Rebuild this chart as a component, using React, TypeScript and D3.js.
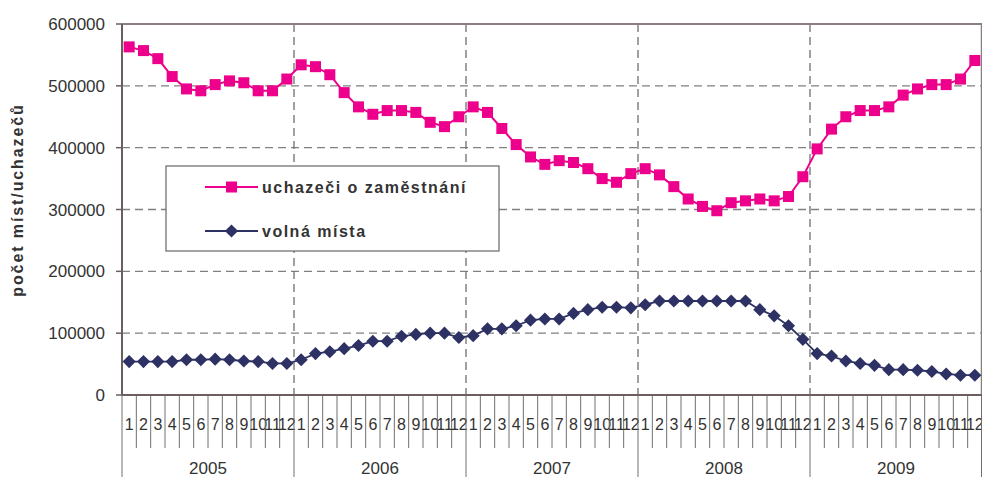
import React from 'react';
import * as d3 from 'd3';

const years = ['2005', '2006', '2007', '2008', '2009'];
const months = ['1', '2', '3', '4', '5', '6', '7', '8', '9', '10', '11', '12'];
const yTicks = [0, 100000, 200000, 300000, 400000, 500000, 600000];

// uchazeči o zaměstnání
const uchazeci = [
  563000, 557000, 544000, 515000, 495000, 492000, 502000, 508000, 505000, 492000, 492000, 511000,
  534000, 531000, 518000, 489000, 466000, 454000, 460000, 460000, 457000, 441000, 434000, 450000,
  466000, 457000, 431000, 405000, 385000, 373000, 379000, 376000, 366000, 350000, 344000, 358000,
  366000, 356000, 337000, 317000, 305000, 298000, 311000, 314000, 317000, 314000, 321000, 353000,
  398000, 430000, 450000, 460000, 460000, 466000, 485000, 495000, 502000, 502000, 511000, 541000,
];

// volná místa
const volnaMista = [
  54000, 54000, 54000, 54000, 57000, 57000, 58000, 57000, 55000, 54000, 51000, 51000,
  57000, 67000, 70000, 75000, 80000, 87000, 87000, 95000, 98000, 100000, 100000, 93000,
  96000, 107000, 107000, 112000, 121000, 123000, 123000, 132000, 138000, 142000, 142000, 141000,
  146000, 152000, 152000, 152000, 152000, 152000, 152000, 152000, 138000, 128000, 112000, 90000,
  67000, 63000, 55000, 51000, 48000, 41000, 41000, 40000, 38000, 34000, 32000, 32000,
];

const PINK = '#ec008c';
const NAVY = '#2e3163';
const TEXT = '#333333';
const FONT = '"Liberation Sans", Arial, sans-serif';

const width = 982;
const height = 477;
const margin = { left: 122, right: 0, top: 24, bottom: 82 };

export default function App() {
  const keys = years.flatMap((y) => months.map((m) => `${y}-${m}`));
  const x = d3
    .scaleBand<string>()
    .domain(keys)
    .range([margin.left, width - margin.right]);
  const xYear = d3
    .scaleBand<string>()
    .domain(years)
    .range([margin.left, width - margin.right]);
  const y = d3
    .scaleLinear()
    .domain([0, 600000])
    .range([height - margin.bottom, margin.top]);

  const cx = (i: number) => (x(keys[i]) ?? 0) + x.bandwidth() / 2;
  const line = d3
    .line<number>()
    .x((_, i) => cx(i))
    .y((d) => y(d));

  const diamond = d3.symbol(d3.symbolDiamond2, 110)();
  const y0 = y(0);
  const left = margin.left;
  const right = width - margin.right;

  return (
    <svg
      width={width}
      height={height}
      style={{ position: 'absolute', left: 0, top: 0, background: '#fff' }}
      fontFamily={FONT}
    >
      {/* grid */}
      {yTicks.slice(1, -1).map((t) => (
        <line key={t} x1={left} x2={right} y1={y(t)} y2={y(t)} stroke="#808080" strokeWidth={1.3} strokeDasharray="8 5" />
      ))}
      {years.slice(1).map((yr) => (
        <line key={yr} x1={xYear(yr)} x2={xYear(yr)} y1={margin.top} y2={y0} stroke="#707070" strokeWidth={1.3} strokeDasharray="8 5" />
      ))}
      {/* frame */}
      <line x1={left} x2={right} y1={margin.top} y2={margin.top} stroke="#8a8080" strokeWidth={2} />
      <line x1={right - 0.5} x2={right - 0.5} y1={margin.top} y2={y0} stroke="#8a8080" strokeWidth={1.5} />

      {/* y axis */}
      <line x1={left} x2={left} y1={margin.top} y2={y0} stroke="#6a5e5e" strokeWidth={2} />
      {yTicks.map((t) => (
        <g key={t}>
          <line x1={left - 6} x2={left} y1={y(t)} y2={y(t)} stroke="#6a5e5e" strokeWidth={1.5} />
          <text x={105} y={y(t) + 6} textAnchor="end" fontSize={17} fill={TEXT}>
            {t}
          </text>
        </g>
      ))}
      <text
        transform="translate(23, 200) rotate(-90)"
        textAnchor="middle"
        fontSize={16}
        fontWeight="bold"
        letterSpacing={1.9}
        fill={TEXT}
      >
        počet míst/uchazečů
      </text>

      {/* x axis */}
      {keys.map((k, i) => (
        <g key={k}>
          {i % 12 !== 0 && (
            <line x1={x(k)} x2={x(k)} y1={y0} y2={448} stroke="#707070" strokeWidth={1} />
          )}
          <text x={cx(i)} y={430} textAnchor="middle" fontSize={16} fill={TEXT}>
            {months[i % 12]}
          </text>
        </g>
      ))}
      {years.map((yr) => (
        <g key={yr}>
          <line x1={xYear(yr)} x2={xYear(yr)} y1={y0} y2={height} stroke="#707070" strokeWidth={1} />
          <text x={(xYear(yr) ?? 0) + xYear.bandwidth() / 2} y={474} textAnchor="middle" fontSize={17} fill={TEXT}>
            {yr}
          </text>
        </g>
      ))}
      <line x1={right - 0.5} x2={right - 0.5} y1={y0} y2={height} stroke="#707070" strokeWidth={1} />
      <line x1={left} x2={right} y1={y0} y2={y0} stroke="#6a5e5e" strokeWidth={2} />

      {/* series */}
      <path d={line(volnaMista) ?? ''} fill="none" stroke={NAVY} strokeWidth={1.8} />
      {volnaMista.map((v, i) => (
        <path key={i} d={diamond} transform={`translate(${cx(i)},${y(v)})`} fill={NAVY} />
      ))}
      <path d={line(uchazeci) ?? ''} fill="none" stroke={PINK} strokeWidth={2} />
      {uchazeci.map((v, i) => (
        <rect key={i} x={cx(i) - 5.5} y={y(v) - 5.5} width={11} height={11} fill={PINK} />
      ))}

      {/* legend */}
      <g>
        <rect x={166} y={166} width={333} height={85} fill="#fff" stroke="#666" strokeWidth={1.2} />
        <line x1={205} x2={258} y1={187} y2={187} stroke={PINK} strokeWidth={2} />
        <rect x={226} y={181.5} width={11} height={11} fill={PINK} />
        <text x={262} y={193} fontSize={16} fontWeight="bold" letterSpacing={1.5} fill={TEXT}>
          uchazeči o zaměstnání
        </text>
        <line x1={205} x2={258} y1={231} y2={231} stroke={NAVY} strokeWidth={1.8} />
        <path d={diamond} transform="translate(231.5,231)" fill={NAVY} />
        <text x={262} y={237} fontSize={16} fontWeight="bold" letterSpacing={1.5} fill={TEXT}>
          volná místa
        </text>
      </g>
    </svg>
  );
}
